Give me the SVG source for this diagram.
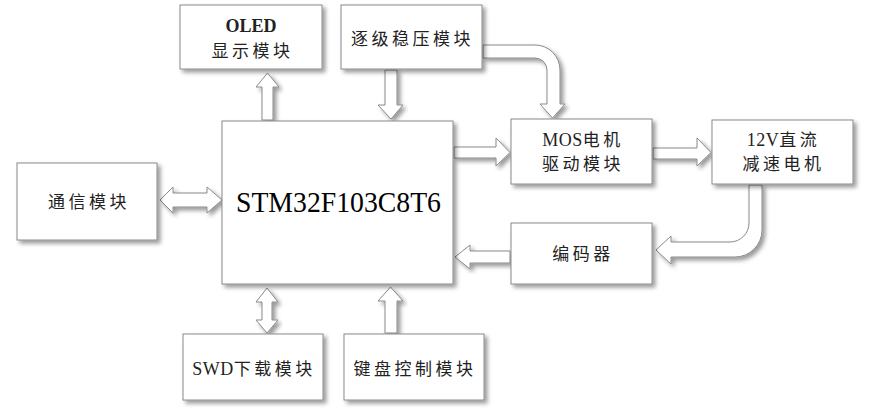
<svg xmlns="http://www.w3.org/2000/svg" width="869" height="419" viewBox="0 0 869 419">
<defs>
<filter id="sh" x="-20%" y="-20%" width="140%" height="140%">
<feDropShadow dx="3" dy="3" stdDeviation="2" flood-color="#000" flood-opacity="0.4"/>
</filter>
<style>
.box{fill:#fff;stroke:#8a8a8a;stroke-width:1;filter:url(#sh)}
.arr{fill:#fff;stroke:#8a8a8a;stroke-width:1;stroke-linejoin:miter;filter:url(#sh)}
.t{font-family:"Liberation Serif","Noto Sans CJK SC",serif;font-size:17px;fill:#222;text-anchor:middle;letter-spacing:3.5px}
.l{letter-spacing:0.5px;font-size:18px}
.big{font-family:"Liberation Serif","Times New Roman",serif;font-size:29px;fill:#000}
.b{font-weight:bold;letter-spacing:0}
</style>
</defs>
<rect width="869" height="419" fill="#fff"/>
<g id="connectors">
<polygon class="arr" points="262,120 262,87 256,87 267.5,73 279,87 273,87 273,120"/>
<polygon class="arr" points="385,70 397,70 397,105 403,105 391,119 378,105 385,105"/>
<polygon class="arr" points="454,147 496,147 496,138 510,152.5 496,166 496,158 454,158"/>
<polygon class="arr" points="653,148 697,148 697,138 711,152.5 697,166 697,159 653,159"/>
<path class="arr" d="M483,45 H535 A25,25 0 0 1 560,70 V104 H565 L552.5,118 L540,104 H547 V70 A12,12 0 0 0 535,58 H483 Z"/>
<path class="arr" d="M749,185 V223 A19,19 0 0 1 730,242 H671 V236 L656,250 L671,264 V257 H735 A27,27 0 0 0 762,230 V185 Z"/>
<polygon class="arr" points="510,251 470,251 470,245 455,257 470,269 470,263 510,263"/>
<polygon class="arr" points="160,200 173,187 173,193 207,193 207,187 222,200 207,213 207,207 173,207 173,213"/>
<polygon class="arr" points="267,288 278,302 272,302 272,320 278,320 267,333 256,320 262,320 262,302 256,302"/>
<polygon class="arr" points="385,333 385,301 378,301 390.5,287 403,301 397,301 397,333"/>
</g>
<g id="oled">
<rect class="box" x="180" y="5" width="142" height="64"/>
<text class="t b" x="251" y="32" style="font-size:18px">OLED</text>
<text class="t" x="252.5" y="57">显示模块</text>
</g>
<g id="regulator">
<rect class="box" x="341" y="5" width="141" height="64"/>
<text class="t" x="412.5" y="45">逐级稳压模块</text>
</g>
<g id="mcu">
<rect class="box" x="222" y="121" width="231" height="163"/>
<text class="big" x="236" y="212" textLength="205" lengthAdjust="spacingAndGlyphs">STM32F103C8T6</text>
</g>
<g id="mosdriver">
<rect class="box" x="511" y="119" width="141" height="65"/>
<text class="t" x="583" y="146"><tspan class="l">MOS</tspan>电机</text>
<text class="t" x="583" y="170">驱动模块</text>
</g>
<g id="motor">
<rect class="box" x="712" y="120" width="141" height="64"/>
<text class="t" x="783.5" y="146"><tspan class="l">12V</tspan>直流</text>
<text class="t" x="783.5" y="170">减速电机</text>
</g>
<g id="encoder">
<rect class="box" x="511" y="223" width="141" height="61"/>
<text class="t" x="583" y="260">编码器</text>
</g>
<g id="comm">
<rect class="box" x="17" y="163" width="140" height="77"/>
<text class="t" x="89" y="208">通信模块</text>
</g>
<g id="swd">
<rect class="box" x="183" y="334" width="140" height="66"/>
<text class="t" x="254" y="375"><tspan class="l">SWD</tspan>下载模块</text>
</g>
<g id="keypad">
<rect class="box" x="344" y="334" width="140" height="66"/>
<text class="t" x="415" y="375">键盘控制模块</text>
</g>
</svg>
